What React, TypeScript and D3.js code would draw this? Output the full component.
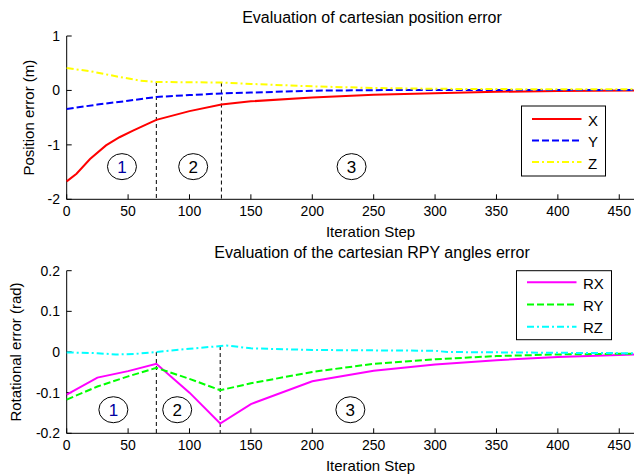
import React from "react";
import * as d3 from "d3";

const iterX = [0, 8, 19, 32, 43, 54, 65, 73, 100, 126, 150, 200, 250, 300, 350, 400, 462];
const errX = [-1.67, -1.53, -1.26, -1.01, -0.86, -0.74, -0.625, -0.54, -0.38, -0.26, -0.2, -0.13, -0.08, -0.05, -0.025, -0.01, 0.0];
const iterY = [0, 25, 50, 73, 100, 126, 150, 200, 250, 300, 462];
const errY = [-0.34, -0.26, -0.19, -0.12, -0.085, -0.055, -0.04, -0.005, 0.005, 0.01, 0.01];
const iterZ = [0, 20, 40, 60, 73, 100, 126, 150, 200, 250, 300, 400, 462];
const errZ = [0.41, 0.35, 0.26, 0.18, 0.155, 0.15, 0.145, 0.12, 0.075, 0.045, 0.03, 0.02, 0.02];

const iterBot = [0, 25, 50, 73, 100, 125, 150, 200, 250, 300, 350, 400, 462];
const errRX = [-0.105, -0.063, -0.047, -0.029, -0.1, -0.176, -0.128, -0.072, -0.046, -0.031, -0.02, -0.012, -0.006];
const errRY = [-0.117, -0.085, -0.06, -0.039, -0.066, -0.094, -0.077, -0.049, -0.029, -0.018, -0.01, -0.006, -0.004];
const iterRZ = [0, 25, 40, 55, 73, 100, 130, 150, 200, 250, 300, 310, 400, 462];
const errRZ = [-0.001, -0.003, -0.006, -0.005, 0.0, 0.008, 0.016, 0.009, 0.005, 0.004, 0.003, 0.0, -0.002, -0.003];

const xTicks = [0, 50, 100, 150, 200, 250, 300, 350, 400, 450];
const yTicksTop = [1, 0, -1, -2];
const yTicksBot = [0.2, 0.1, 0, -0.1, -0.2];
const phaseTop = [73, 126];
const phaseBot = [73, 125];
const phaseLabels = ["1", "2", "3"];
const phasePosTop = [45, 103, 232];
const phasePosBot = [38, 90, 231];

const FONT = "'Liberation Sans', Arial, sans-serif";

type Series = { name: string; xs: number[]; ys: number[]; color: string; dash: string };

function Panel(props: {
  top: number; bottom: number; yDomain: [number, number]; yTicks: number[]; yFmt: (v: number) => string;
  series: Series[]; title: string; titleY: number; ylabel: string; ylabelX: number;
  phase: number[]; phaseFrom: Series; phasePos: number[]; phaseYVal: number;
  legend: { x: number; y: number; w: number; h: number; first: number; step: number };
}) {
  const x = d3.scaleLinear().domain([0, 462]).range([66.7, 634]);
  const y = d3.scaleLinear().domain(props.yDomain).range([props.bottom, props.top]);
  const line = d3.line<[number, number]>().x(d => x(d[0])).y(d => y(d[1]));
  const interp = (s: Series, v: number) => {
    for (let i = 0; i < s.xs.length - 1; i++) {
      if (v >= s.xs[i] && v <= s.xs[i + 1]) {
        const t = (v - s.xs[i]) / (s.xs[i + 1] - s.xs[i]);
        return s.ys[i] + t * (s.ys[i + 1] - s.ys[i]);
      }
    }
    return 0;
  };
  const L = props.legend;
  return (
    <g>
      <text x={372} y={props.titleY} textAnchor="middle" fontSize={16} fontFamily={FONT}>{props.title}</text>
      <line x1={66.7} x2={66.7} y1={props.top} y2={props.bottom} stroke="#000" />
      <line x1={66.7} x2={634} y1={props.bottom} y2={props.bottom} stroke="#000" />
      {xTicks.map(t => (
        <g key={t}>
          <line x1={x(t)} x2={x(t)} y1={props.bottom} y2={props.bottom - 5} stroke="#000" />
          <text x={x(t)} y={props.bottom + 17} textAnchor="middle" fontSize={14} fontFamily={FONT}>{t}</text>
        </g>
      ))}
      {props.yTicks.map(t => (
        <g key={t}>
          <line x1={66.7} x2={71.7} y1={y(t)} y2={y(t)} stroke="#000" />
          <text x={60} y={y(t) + 5} textAnchor="end" fontSize={14} fontFamily={FONT}>{props.yFmt(t)}</text>
        </g>
      ))}
      <text x={370.5} y={props.bottom + 38} textAnchor="middle" fontSize={15} fontFamily={FONT}>Iteration Step</text>
      <text transform={`translate(${props.ylabelX},${(props.top + props.bottom) / 2}) rotate(-90)`} textAnchor="middle" fontSize={15} fontFamily={FONT}>{props.ylabel}</text>
      {props.phase.map(p => (
        <line key={p} x1={x(p)} x2={x(p)} y1={y(interp(props.phaseFrom, p))} y2={props.bottom} stroke="#000" strokeDasharray="4,3" />
      ))}
      {phaseLabels.map((lbl, i) => (
        <g key={lbl}>
          <ellipse cx={x(props.phasePos[i])} cy={y(props.phaseYVal)} rx={14.5} ry={13} fill="none" stroke="#000" />
          <text x={x(props.phasePos[i])} y={y(props.phaseYVal) + 6} textAnchor="middle" fontSize={17} fontFamily={FONT} fill={i === 0 ? "#0000a0" : "#000"}>{lbl}</text>
        </g>
      ))}
      {props.series.map(s => (
        <path key={s.name} d={line(s.xs.map((v, i) => [v, s.ys[i]] as [number, number])) || ""} fill="none" stroke={s.color} strokeWidth={2} strokeDasharray={s.dash} />
      ))}
      <rect x={L.x} y={L.y} width={L.w} height={L.h} fill="#fff" stroke="#000" />
      {props.series.map((s, i) => {
        const ly = L.y + L.first + i * L.step;
        return (
          <g key={s.name}>
            <line x1={L.x + 10.5} x2={L.x + 60} y1={ly} y2={ly} stroke={s.color} strokeWidth={2} strokeDasharray={s.dash} />
            <text x={L.x + 66.5} y={ly + 6.5} fontSize={15} fontFamily={FONT}>{s.name}</text>
          </g>
        );
      })}
    </g>
  );
}

export default function App() {
  const topSeries: Series[] = [
    { name: "X", xs: iterX, ys: errX, color: "#ff0000", dash: "" },
    { name: "Y", xs: iterY, ys: errY, color: "#0000ff", dash: "7,3" },
    { name: "Z", xs: iterZ, ys: errZ, color: "#ffff00", dash: "7,3,2,3" },
  ];
  const botSeries: Series[] = [
    { name: "RX", xs: iterBot, ys: errRX, color: "#ff00ff", dash: "" },
    { name: "RY", xs: iterBot, ys: errRY, color: "#00ff00", dash: "7,3" },
    { name: "RZ", xs: iterRZ, ys: errRZ, color: "#00ffff", dash: "7,3,2,3" },
  ];
  return (
    <svg width={637} height={476} style={{ position: "absolute", left: 0, top: 0, background: "#fff" }}>
      <rect width={637} height={476} fill="#fff" />
      <Panel top={36} bottom={199.3} yDomain={[-2, 1]} yTicks={yTicksTop} yFmt={v => String(v)}
        series={topSeries} title="Evaluation of cartesian position error" titleY={23.3}
        ylabel="Position error (m)" ylabelX={34}
        phase={phaseTop} phaseFrom={topSeries[2]} phasePos={phasePosTop} phaseYVal={-1.4}
        legend={{ x: 521.5, y: 106, w: 84, h: 70, first: 13, step: 21.5 }} />
      <Panel top={270.7} bottom={433.3} yDomain={[-0.2, 0.2]} yTicks={yTicksBot} yFmt={v => (v === 0 ? "0" : d3.format(".1f")(v).replace("−", "-"))}
        series={botSeries} title="Evaluation of the cartesian RPY angles error" titleY={258.3}
        ylabel="Rotational error (rad)" ylabelX={21}
        phase={phaseBot} phaseFrom={botSeries[2]} phasePos={phasePosBot} phaseYVal={-0.142}
        legend={{ x: 516.5, y: 270.7, w: 95, h: 69, first: 11.6, step: 22.2 }} />
    </svg>
  );
}
